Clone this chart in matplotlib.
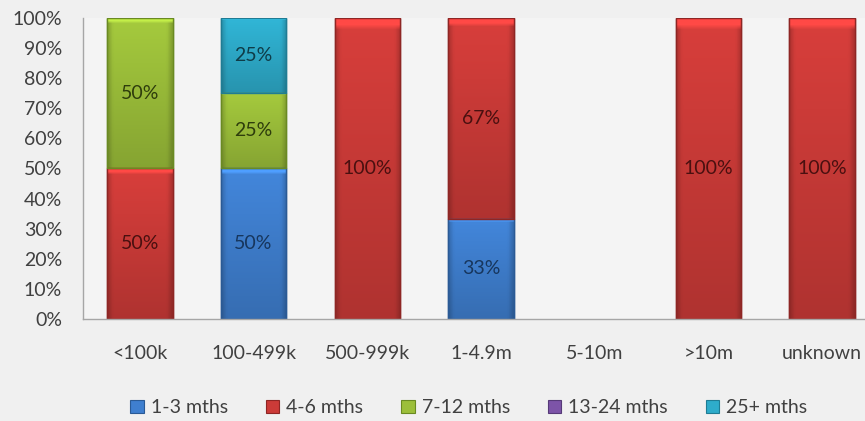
import matplotlib
matplotlib.use("Agg")
import matplotlib.pyplot as plt
import numpy as np
from matplotlib.ticker import PercentFormatter
from matplotlib.patches import Patch
from matplotlib.colors import to_rgb

plt.rcParams['font.family'] = ['Lato', 'DejaVu Sans']

categories = ['<100k', '100-499k', '500-999k', '1-4.9m', '5-10m', '>10m', 'unknown']
series_names = ['1-3 mths', '4-6 mths', '7-12 mths', '13-24 mths', '25+ mths']
m1_3 = [0, 50, 0, 33.33, 0, 0, 0]
m4_6 = [50, 0, 100, 66.67, 0, 100, 100]
m7_12 = [50, 25, 0, 0, 0, 0, 0]
m13_24 = [0, 0, 0, 0, 0, 0, 0]
m25 = [0, 25, 0, 0, 0, 0, 0]
series_values = [m1_3, m4_6, m7_12, m13_24, m25]

colors = ['#3f7fcf', '#cc3b38', '#9cbf3a', '#7d54a8', '#2eaccb']
edges = ['#2a5a95', '#8e2624', '#6a8a22', '#563a78', '#1f7c94']
textcols = ['#17365d', '#4a1010', '#2e3d0c', '#2e1f40', '#0f3c48']

BAR_W = 0.575


def shaded(color, ny=60, nx=30):
    base = np.array(to_rgb(color))
    vy = np.linspace(1.06, 0.86, ny)[:, None]
    xx = np.linspace(0, 1, nx)
    edge = np.minimum(xx, 1 - xx)
    hx = np.where(edge < 0.08, 0.82 + 0.18 * edge / 0.08, 1.0)[None, :]
    f = vy * hx
    img = np.clip(base[None, None, :] * f[:, :, None], 0, 1)
    # thin highlight at the top of each segment
    img[:2, :, :] = np.clip(base * 1.25, 0, 1)
    return img


fig = plt.figure(figsize=(8.65, 4.21), dpi=100)
fig.patch.set_facecolor('#f0f0f0')
ax = fig.add_axes([0.096, 0.2423, 0.920, 0.7150])
ax.set_facecolor('#f4f4f4')

x = np.arange(len(categories))
bottom = np.zeros(len(categories))
handles = []
for vals, name, c, ec, tc in zip(series_values, series_names, colors, edges, textcols):
    vals = np.array(vals, dtype=float)
    bars = ax.bar(x, vals, width=BAR_W, bottom=bottom, color=c, edgecolor=ec,
                  linewidth=1.0, zorder=3)
    img = shaded(c)
    for rect, v in zip(bars, vals):
        if v <= 0:
            rect.set_visible(False)
            continue
        x0, y0 = rect.get_x(), rect.get_y()
        im = ax.imshow(img, extent=(x0, x0 + rect.get_width(), y0, y0 + rect.get_height()),
                       origin='upper', aspect='auto', interpolation='bilinear', zorder=3.5)
        im.set_clip_path(rect)
        # redraw edge on top
        ax.bar(rect.get_x() + rect.get_width() / 2, v, width=rect.get_width(), bottom=y0,
               facecolor='none', edgecolor=ec, linewidth=1.0, zorder=3.6)
    handles.append(Patch(facecolor=c, edgecolor=ec, linewidth=0.8))
    for xi, v, b in zip(x, vals, bottom):
        if v > 0:
            ax.text(xi, b + v / 2, f'{v:.0f}%', ha='center', va='center',
                    fontsize=14, color=tc, zorder=4)
    bottom += vals

ax.set_xlim(-0.5, 6.5)
ax.set_ylim(0, 100)
ax.set_yticks(np.arange(0, 101, 10))
ax.yaxis.set_major_formatter(PercentFormatter(decimals=0))
ax.set_xticks(x)
ax.set_xticklabels(categories)
ax.tick_params(axis='both', length=0, labelsize=14, colors='#404040')
ax.tick_params(axis='x', pad=19)
ax.tick_params(axis='y', pad=15)
for s in ['top', 'right']:
    ax.spines[s].set_visible(False)
for s in ['left', 'bottom']:
    ax.spines[s].set_color('#a6a6a6')
    ax.spines[s].set_linewidth(1.0)
    ax.spines[s].set_zorder(5)

leg = fig.legend(handles=handles, labels=series_names, loc='center',
                 bbox_to_anchor=(0.542, 0.031), ncol=5, frameon=False,
                 fontsize=14, handlelength=0.7, handleheight=0.7,
                 handletextpad=0.35, columnspacing=1.95)
for t in leg.get_texts():
    t.set_color('#404040')

fig.savefig('out.png', dpi=100, facecolor=fig.get_facecolor())
